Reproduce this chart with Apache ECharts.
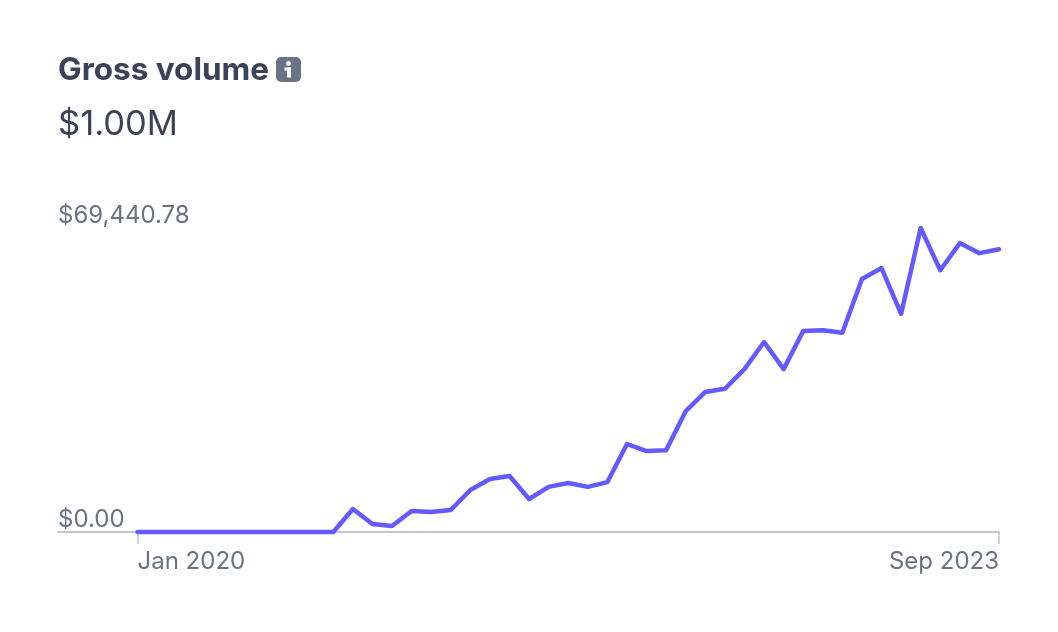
<!DOCTYPE html>
<html>
<head>
<meta charset="utf-8">
<title>Gross volume</title>
<script src="https://cdn.jsdelivr.net/npm/echarts@6/dist/echarts.min.js"></script>
<style>
  html, body { margin: 0; padding: 0; background: #fff; }
  #grossVolumeChart { width: 1058px; height: 632px; }
</style>
</head>
<body>
<div id="grossVolumeChart"></div>
<script>
const chartTitle = 'Gross volume'
const chartTotal = '$1.00M'

const months = [
  'Jan 2020', 'Feb 2020', 'Mar 2020', 'Apr 2020', 'May 2020', 'Jun 2020', 'Jul 2020', 'Aug 2020', 'Sep 2020', 'Oct 2020', 'Nov 2020', 'Dec 2020',
  'Jan 2021', 'Feb 2021', 'Mar 2021', 'Apr 2021', 'May 2021', 'Jun 2021', 'Jul 2021', 'Aug 2021', 'Sep 2021', 'Oct 2021', 'Nov 2021', 'Dec 2021',
  'Jan 2022', 'Feb 2022', 'Mar 2022', 'Apr 2022', 'May 2022', 'Jun 2022', 'Jul 2022', 'Aug 2022', 'Sep 2022', 'Oct 2022', 'Nov 2022', 'Dec 2022',
  'Jan 2023', 'Feb 2023', 'Mar 2023', 'Apr 2023', 'May 2023', 'Jun 2023', 'Jul 2023', 'Aug 2023', 'Sep 2023'
]
const grossVolume = [
  0, 0, 0, 0, 0, 0, 0, 0, 0, 0, 0, 5250,
  1830, 1370, 4800, 4570, 5020, 9590, 12100, 12800, 7540, 10300, 11200, 10300,
  11400, 20100, 18500, 18700, 27600, 32000, 32700, 37200, 43400, 37200, 45900, 46100,
  45500, 57800, 60300, 49800, 69440.78, 59800, 66000, 63700, 64600
]
const yTicks = [0, 69440.78]

const fontFamily = 'Inter, "Noto Sans", sans-serif'
const titleColor = '#3c4257'
const labelColor = '#697386'
const axisColor = '#c1c5cd'
const lineColor = '#635bff'

const money = (v) => '$' + v.toLocaleString('en-US', { minimumFractionDigits: 2, maximumFractionDigits: 2 })

const chart = echarts.init(document.getElementById('grossVolumeChart'), null, { renderer: 'canvas' })
chart.setOption({
  animation: false,
  backgroundColor: '#fff',
  title: [
    {
      text: chartTitle,
      left: 58,
      top: 52,
      padding: 0,
      textStyle: { fontFamily, fontSize: 31.5, fontWeight: 700, color: titleColor, lineHeight: 38 }
    },
    {
      text: chartTotal,
      left: 58,
      top: 104,
      padding: 0,
      textStyle: { fontFamily, fontSize: 34.5, fontWeight: 400, color: titleColor, lineHeight: 42 }
    }
  ],
  // info icon next to the title
  graphic: [
    {
      type: 'group',
      left: 276,
      top: 57,
      children: [
        { type: 'rect', shape: { x: 0, y: 0, width: 25, height: 25, r: 5 }, style: { fill: '#697386' } },
        { type: 'circle', shape: { cx: 12.5, cy: 6.5, r: 2.4 }, style: { fill: '#fff' } },
        { type: 'rect', shape: { x: 8.5, y: 10.5, width: 6.5, height: 3 }, style: { fill: '#fff' } },
        { type: 'rect', shape: { x: 11, y: 10.5, width: 4, height: 10 }, style: { fill: '#fff' } }
      ]
    }
  ],
  grid: [
    { left: 137.5, right: 59, top: 228, bottom: 100 },
    { left: 58, width: 79.5, top: 228, bottom: 100 }
  ],
  xAxis: [
    {
      type: 'category',
      gridIndex: 0,
      data: months,
      boundaryGap: false,
      axisLine: { show: true, lineStyle: { color: axisColor, width: 2 } },
      axisTick: {
        show: true,
        length: 12,
        lineStyle: { color: axisColor, width: 1.5 },
        interval: (i) => i === 0 || i === months.length - 1
      },
      axisLabel: {
        interval: (i) => i === 0 || i === months.length - 1,
        alignMinLabel: 'left',
        alignMaxLabel: 'right',
        margin: 18,
        color: labelColor,
        fontFamily,
        fontSize: 24
      }
    },
    {
      type: 'value',
      gridIndex: 1,
      min: 0,
      max: 1,
      axisLine: { show: true, onZero: false, lineStyle: { color: axisColor, width: 2 } },
      axisTick: { show: false },
      axisLabel: { show: false },
      splitLine: { show: false }
    }
  ],
  yAxis: [
    {
      type: 'value',
      gridIndex: 0,
      min: 0,
      max: yTicks[1],
      axisLine: { show: false },
      axisTick: { show: false },
      splitLine: { show: false },
      axisLabel: {
        customValues: yTicks,
        formatter: money,
        align: 'left',
        verticalAlign: 'bottom',
        margin: 79.5,
        color: labelColor,
        fontFamily,
        fontSize: 24
      }
    },
    { type: 'value', gridIndex: 1, show: false, min: 0, max: 1 }
  ],
  series: [
    {
      name: chartTitle,
      type: 'line',
      xAxisIndex: 0,
      yAxisIndex: 0,
      data: grossVolume,
      showSymbol: false,
      smooth: false,
      clip: false,
      lineStyle: { color: lineColor, width: 4.5, cap: 'round', join: 'round' },
      z: 5
    }
  ]
})
</script>
</body>
</html>
